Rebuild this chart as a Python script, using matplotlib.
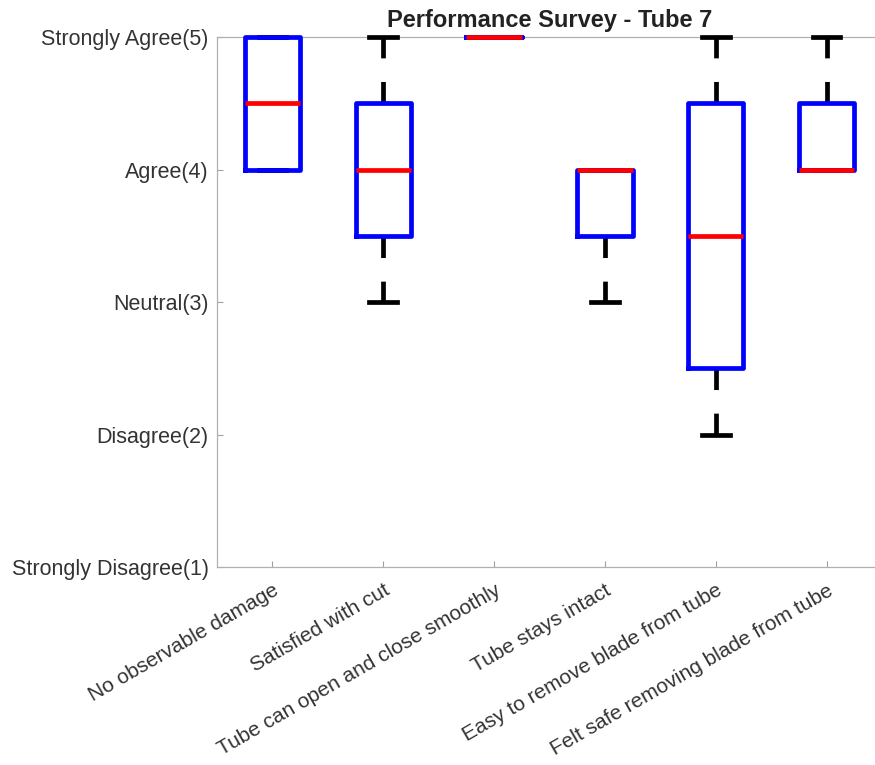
import matplotlib.pyplot as plt

plt.rcParams['font.family'] = ['Liberation Sans', 'DejaVu Sans']
plt.rcParams['lines.scale_dashes'] = False

questions = ["No observable damage", "Satisfied with cut",
             "Tube can open and close smoothly", "Tube stays intact",
             "Easy to remove blade from tube", "Felt safe removing blade from tube"]
q1 = [4.0, 3.5, 5.0, 3.5, 2.5, 4.0]
med = [4.5, 4.0, 5.0, 4.0, 3.5, 4.0]
q3 = [5.0, 4.5, 5.0, 4.0, 4.5, 4.5]
whislo = [4.0, 3.0, 5.0, 3.0, 2.0, 4.0]
whishi = [5.0, 5.0, 5.0, 4.0, 5.0, 5.0]

scale = [1, 2, 3, 4, 5]
scale_labels = ["Strongly Disagree(1)", "Disagree(2)", "Neutral(3)",
                "Agree(4)", "Strongly Agree(5)"]

stats = []
for i in range(len(questions)):
    stats.append({'label': questions[i], 'q1': q1[i], 'med': med[i], 'q3': q3[i],
                  'whislo': whislo[i], 'whishi': whishi[i], 'fliers': []})

fig = plt.figure(figsize=(8.75, 7.65), dpi=100)
ax = fig.add_axes([0.248, 0.2588, 0.760, 0.6928])

ax.bxp(stats, positions=range(1, 7), widths=0.5, showfliers=False,
       boxprops=dict(color='blue', linewidth=3.4, zorder=4),
       medianprops=dict(color='red', linewidth=3.4, zorder=5, solid_capstyle='butt'),
       whiskerprops=dict(color='black', linewidth=3.4, linestyle=(0, (15.5, 17)), zorder=3),
       capprops=dict(color='black', linewidth=3.4, zorder=3),
       capwidths=0.25, manage_ticks=False)

for line in ax.lines:
    line.set_clip_on(False)

ax.set_xlim(0.5, 6.5)
ax.set_ylim(1, 5)
ax.set_xticks(range(1, 7))
ax.set_xticklabels(questions, rotation=30, ha='right', rotation_mode='anchor')
ax.set_yticks(scale)
ax.set_yticklabels(scale_labels)
ax.tick_params(direction='in', length=4, color='#a0a0a0', labelcolor='#333333',
               labelsize=15.5)
ax.tick_params(axis='x', pad=10, labelsize=15)
ax.tick_params(axis='y', pad=6)

for s in ax.spines.values():
    s.set_color('#b0b0b0')
    s.set_linewidth(0.9)

ax.set_title("Performance Survey - Tube 7", fontsize=17, fontweight='bold',
             color='#222222', pad=7)

fig.savefig("out.png", dpi=100)
